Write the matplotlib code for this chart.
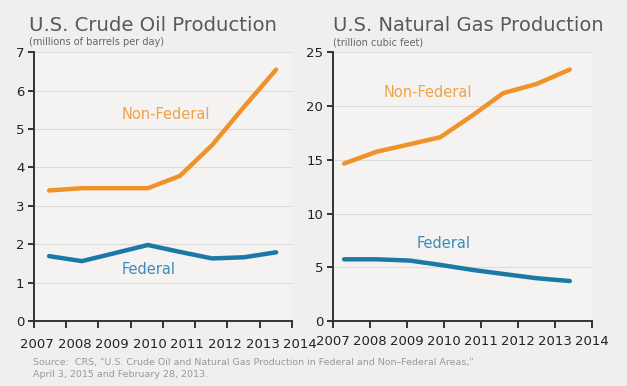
import numpy as np
import matplotlib.pyplot as plt

# values
oil_x = [2007.41, 2008.30, 2009.20, 2010.09, 2010.96, 2011.83, 2012.70, 2013.57]
oil_nonfed = [3.40, 3.46, 3.46, 3.46, 3.78, 4.58, 5.58, 6.55]
oil_fed = [1.69, 1.56, 1.77, 1.98, 1.80, 1.63, 1.66, 1.79]

gas_x = [2007.30, 2008.18, 2009.08, 2009.90, 2010.80, 2011.60, 2012.50, 2013.40]
gas_nonfed = [14.65, 15.75, 16.45, 17.10, 19.20, 21.20, 22.05, 23.40]
gas_fed = [5.74, 5.74, 5.62, 5.22, 4.74, 4.38, 3.98, 3.72]

year_labels = ['2007', '2008', '2009', '2010', '2011', '2012', '2013', '2014']

ORANGE = '#f0922a'
BLUE = '#1b7aa5'
ORANGE_TXT = '#f0a24a'
BLUE_TXT = '#3b8bbb'
BG = '#efefef'

plt.rcParams['font.family'] = ['DejaVu Sans']

fig = plt.figure(figsize=(6.27, 3.86), dpi=100, facecolor=BG)
ax1 = fig.add_axes([0.0542, 0.1684, 0.4115, 0.6961])
ax2 = fig.add_axes([0.5311, 0.1684, 0.4131, 0.6961])


def style(ax, ymax, ystep):
    ax.set_facecolor('#f4f3f1')
    for s in ['top', 'right']:
        ax.spines[s].set_visible(False)
    for s in ['left', 'bottom']:
        ax.spines[s].set_color('#333333')
        ax.spines[s].set_linewidth(1.4)
    ax.set_ylim(0, ymax)
    ax.set_yticks(np.arange(0, ymax + 0.1, ystep))
    ax.grid(axis='y', color='#dcdcdc', linewidth=0.8)
    ax.set_axisbelow(True)
    ax.tick_params(axis='y', length=4, width=1.4, color='#333333', labelsize=9.5, labelcolor='#222222', pad=3)
    ax.tick_params(axis='x', length=5, width=1.4, color='#333333', labelsize=9.5, labelcolor='#222222', pad=5)


# left: crude oil
style(ax1, 7, 1)
ax1.set_xlim(2007, 2014)
ax1.set_xticks(np.linspace(2007, 2014, 9))
ax1.set_xticklabels([])
ax1.plot(oil_x, oil_nonfed, color=ORANGE, lw=3.2, solid_capstyle='round', solid_joinstyle='round')
ax1.plot(oil_x, oil_fed, color=BLUE, lw=3.2, solid_capstyle='round', solid_joinstyle='round')
# year labels on the left panel are spaced wider than the tick marks
for i, lab in enumerate(year_labels):
    xf = (37 + i * 37.6 - 34) / 258.0
    ax1.text(xf, -0.065, lab, transform=ax1.transAxes, ha='center', va='top',
             fontsize=9.5, color='#222222')
ax1.text(2010.58, 5.39, 'Non-Federal', color=ORANGE_TXT, fontsize=10.5, ha='center', va='center')
ax1.text(2010.12, 1.35, 'Federal', color=BLUE_TXT, fontsize=10.5, ha='center', va='center')

# right: natural gas
style(ax2, 25, 5)
ax2.set_xlim(2007, 2014)
ax2.set_xticks(range(2007, 2015))
ax2.set_xticklabels(year_labels)
ax2.plot(gas_x, gas_nonfed, color=ORANGE, lw=3.2, solid_capstyle='round', solid_joinstyle='round')
ax2.plot(gas_x, gas_fed, color=BLUE, lw=3.2, solid_capstyle='round', solid_joinstyle='round')
ax2.text(2009.57, 21.3, 'Non-Federal', color=ORANGE_TXT, fontsize=10.5, ha='center', va='center')
ax2.text(2010.0, 7.2, 'Federal', color=BLUE_TXT, fontsize=10.5, ha='center', va='center')

# titles
fig.text(0.046, 0.935, 'U.S. Crude Oil Production', fontsize=14.1, color='#595959', ha='left', va='center')
fig.text(0.046, 0.89, '(millions of barrels per day)', fontsize=7, color='#666666', ha='left', va='center')
fig.text(0.531, 0.935, 'U.S. Natural Gas Production', fontsize=14.0, color='#595959', ha='left', va='center')
fig.text(0.531, 0.89, '(trillion cubic feet)', fontsize=7, color='#666666', ha='left', va='center')

fig.text(0.053, 0.062, 'Source:  CRS, "U.S. Crude Oil and Natural Gas Production in Federal and Non\u2013Federal Areas,"',
         fontsize=6.8, color='#999999', ha='left', va='center')
fig.text(0.053, 0.030, 'April 3, 2015 and February 28, 2013.', fontsize=6.8, color='#999999', ha='left', va='center')

fig.savefig('out.png', dpi=100, facecolor=BG)
